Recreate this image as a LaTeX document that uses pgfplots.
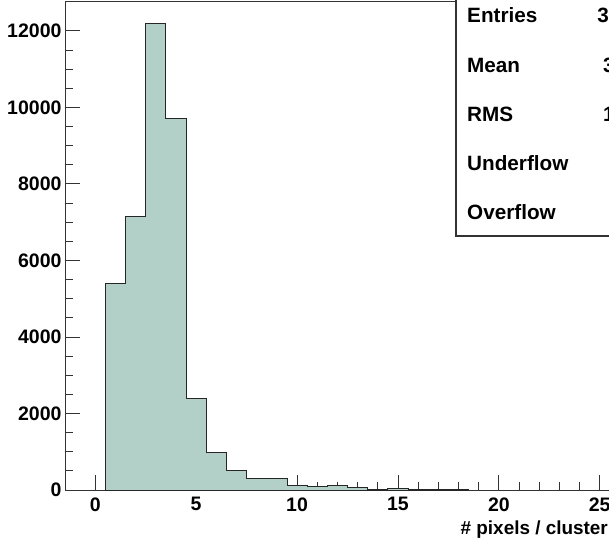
\documentclass[border=0pt]{standalone}
\usepackage{pgfplots}
\pgfplotsset{compat=1.18}
\usepackage{fontspec}
\setmainfont{Liberation Sans}
\definecolor{histfill}{RGB}{179,208,200}
\newcommand{\rootfont}{\fontsize{19.5}{22}\selectfont\bfseries}
\newcommand{\statfont}{\fontsize{20.7}{24}\selectfont\bfseries}

\begin{document}
\begin{tikzpicture}
\begin{axis}[
  scale only axis, width=565pt, height=489pt,
  xmin=-1.5, xmax=26.5, ymin=0, ymax=12780,
  xtick={0,5,...,25}, minor x tick num=4,
  ytick={0,2000,...,12000}, minor y tick num=3,
  xtick pos=bottom, ytick pos=left,
  tick align=inside, major tick length=15pt, minor tick length=8pt,
  axis line style={black!80, line width=0.9pt},
  tick style={black!80, line width=0.9pt},
  ticklabel style={font=\rootfont},
  xticklabel style={yshift=-4pt},
  /pgf/number format/assume math mode=true,
  /pgf/number format/1000 sep={},
  scaled y ticks=false,
  xlabel={\# pixels / cluster},
  xlabel style={at={(axis description cs:0.961,-0.09)}, anchor=base east,
    font=\fontsize{18.9}{22}\selectfont\bfseries, inner sep=0pt},
]
\addplot[const plot, fill=histfill, draw=black!85, line width=0.9pt] coordinates {
  (0.5,5400) (1.5,7150) (2.5,12200) (3.5,9720) (4.5,2380) (5.5,990)
  (6.5,515) (7.5,300) (8.5,300) (9.5,130) (10.5,87) (11.5,113)
  (12.5,70) (13.5,26) (14.5,44) (15.5,17) (16.5,17) (17.5,17) (18.5,0)
} \closedcycle;
\coordinate (sw) at (rel axis cs:0,0);
\end{axis}
\draw[black!80, line width=1.1pt, fill=white] ([shift={(391pt,254pt)}]sw) rectangle ([shift={(700pt,520pt)}]sw);
\foreach \lab/\val/\yy in {Entries/39455/475, Mean/3.241/425, RMS/1.790/376, Underflow/0/327, Overflow/0/278} {
  \node[anchor=west, font=\statfont, inner sep=0pt] at ([shift={(402pt,\yy pt)}]sw) {\lab};
  \node[anchor=east, font=\statfont, inner sep=0pt] at ([shift={(590pt,\yy pt)}]sw) {\val};
}
\pgfresetboundingbox
\useasboundingbox ([shift={(-65pt,-52pt)}]sw) rectangle ([shift={(544pt,490pt)}]sw);
\end{tikzpicture}
\end{document}
